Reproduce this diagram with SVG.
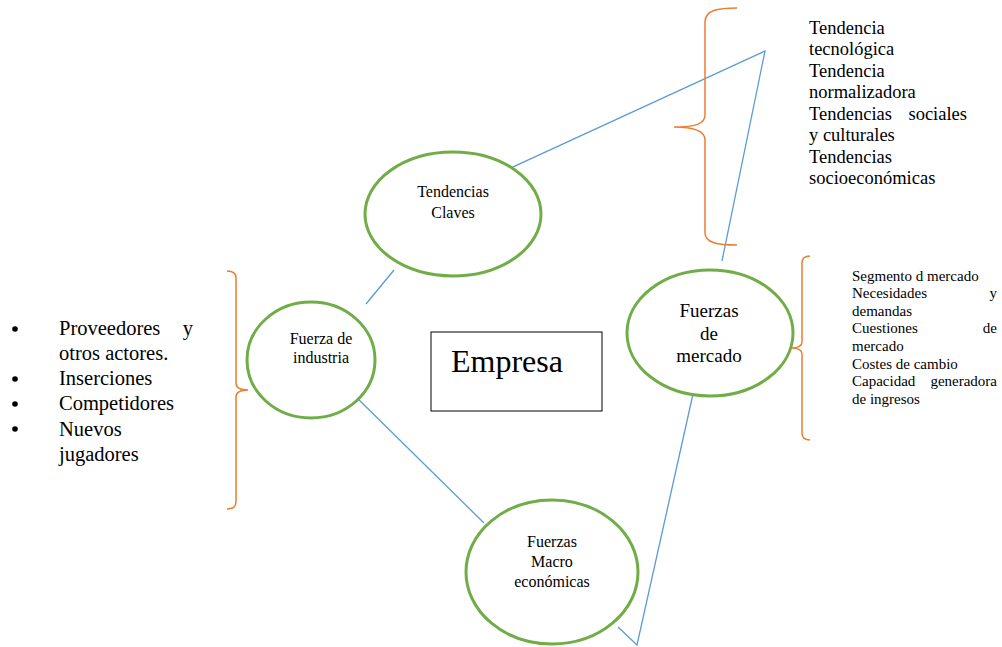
<svg xmlns="http://www.w3.org/2000/svg" width="1002" height="647" viewBox="0 0 1002 647">
  <style>
    .node { fill: #ffffff; stroke: #70AD47; stroke-width: 3; }
    .link { fill: none; stroke: #5B9BD5; stroke-width: 1.3; }
    .brace { fill: none; stroke: #ED7D31; stroke-width: 1.5; }
    text { font-family: "Liberation Serif", "Times New Roman", "DejaVu Serif", serif; fill: #000000; }
    .c { text-anchor: middle; }
  </style>
  <rect width="1002" height="647" fill="#ffffff"/>

  <!-- connectors -->
  <g id="connectors">
    <polyline class="link" points="504,171 765,51 722,261"/>
    <line class="link" x1="394" y1="270" x2="366" y2="304"/>
    <line class="link" x1="352" y1="393" x2="484" y2="523"/>
    <polyline class="link" points="693,394 637,645 618,627"/>
  </g>

  <!-- braces -->
  <g id="braces">
    <path class="brace" d="M737,8 C718,8 705,10 705,22 L705,115 C705,124 695,127 674,127 C695,127 705,131 705,140 L705,233 C705,243 718,245 737,245"/>
    <path class="brace" d="M810,256 C805,256 802,258 802,263 L802,342 C802,346 798,348 791,348 C798,348 802,350 802,354 L802,433 C802,438 805,440 810,440"/>
    <path class="brace" d="M227,271 C232,271 236,273 236,278 L236,383 C236,388 240,390 248,390 C240,390 236,392 236,397 L236,502 C236,507 232,509 227,509"/>
  </g>

  <!-- nodes -->
  <g id="tendencias-claves">
    <ellipse class="node" cx="453" cy="214" rx="88" ry="62"/>
    <text class="c" x="453" y="197" font-size="16">Tendencias</text>
    <text class="c" x="453" y="218" font-size="16">Claves</text>
  </g>
  <g id="fuerza-industria">
    <ellipse class="node" cx="311" cy="360" rx="64" ry="58"/>
    <text class="c" x="321" y="344" font-size="16">Fuerza de</text>
    <text class="c" x="321" y="363" font-size="16">industria</text>
  </g>
  <g id="fuerzas-mercado">
    <ellipse class="node" cx="710" cy="333" rx="83" ry="63"/>
    <text class="c" x="709" y="317" font-size="19">Fuerzas</text>
    <text class="c" x="709" y="340" font-size="19">de</text>
    <text class="c" x="709" y="362" font-size="19">mercado</text>
  </g>
  <g id="fuerzas-macro">
    <ellipse class="node" cx="552" cy="572" rx="86" ry="72"/>
    <text class="c" x="552" y="547" font-size="16">Fuerzas</text>
    <text class="c" x="552" y="567" font-size="16">Macro</text>
    <text class="c" x="552" y="587" font-size="16">económicas</text>
  </g>
  <g id="empresa">
    <rect x="431" y="332" width="171" height="79" fill="#ffffff" stroke="#000000" stroke-width="1"/>
    <text class="c" x="507" y="372" font-size="32">Empresa</text>
  </g>

  <!-- side lists -->
  <g id="lista-tendencias" font-size="18.5">
    <text x="809" y="34">Tendencia</text>
    <text x="809" y="55">tecnológica</text>
    <text x="809" y="77">Tendencia</text>
    <text x="809" y="98">normalizadora</text>
    <text x="809" y="120">Tendencias</text>
    <text x="967" y="120" text-anchor="end">sociales</text>
    <text x="809" y="141">y culturales</text>
    <text x="809" y="163">Tendencias</text>
    <text x="809" y="184">socioeconómicas</text>
  </g>
  <g id="lista-mercado" font-size="15">
    <text x="852" y="281">Segmento d mercado</text>
    <text x="852" y="298">Necesidades</text>
    <text x="997" y="298" text-anchor="end">y</text>
    <text x="852" y="316">demandas</text>
    <text x="852" y="333">Cuestiones</text>
    <text x="997" y="333" text-anchor="end">de</text>
    <text x="852" y="351">mercado</text>
    <text x="852" y="369">Costes de cambio</text>
    <text x="852" y="386">Capacidad</text>
    <text x="997" y="386" text-anchor="end">generadora</text>
    <text x="852" y="404">de ingresos</text>
  </g>
  <g id="lista-industria" font-size="20.5">
    <circle cx="15" cy="329" r="2.8" fill="#000000"/>
    <circle cx="15" cy="379" r="2.8" fill="#000000"/>
    <circle cx="15" cy="404" r="2.8" fill="#000000"/>
    <circle cx="15" cy="429" r="2.8" fill="#000000"/>
    <text x="59" y="335">Proveedores</text>
    <text x="193" y="335" text-anchor="end">y</text>
    <text x="59" y="360">otros actores.</text>
    <text x="59" y="385">Inserciones</text>
    <text x="59" y="410">Competidores</text>
    <text x="59" y="436">Nuevos</text>
    <text x="59" y="461">jugadores</text>
  </g>
</svg>
